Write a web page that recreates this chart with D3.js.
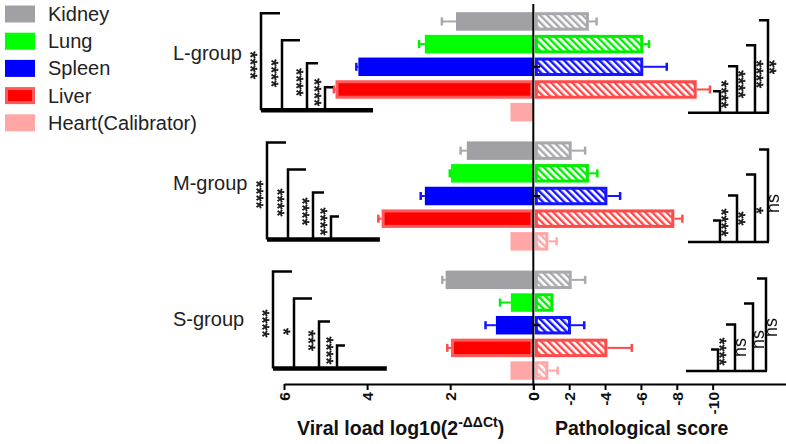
<!DOCTYPE html>
<html><head><meta charset="utf-8">
<script src="https://cdn.jsdelivr.net/npm/d3@7/dist/d3.min.js"></script>
<style>
html,body{margin:0;padding:0;background:#fff;}
svg{display:block;font-family:Arial,"Liberation Sans",sans-serif;}
</style></head>
<body>
<svg id="c" width="786" height="444"></svg>
<script>
// ---------- data ----------
const groups = ["L-group", "M-group", "S-group"];
const organs = ["Kidney", "Lung", "Spleen", "Liver", "Heart(Calibrator)"];
const organColors = ["#a0a0a5", "#00ff00", "#0000ff", "#ff0000", "#ffa6a6"];
const hatchColors = ["#a8a8ad", "#00ee00", "#1414ff", "#ff4a4a", "#ffa6a6"];

// viral load log10(2^-ddCt): mean and one-sided error, per group (organ order)
const viralL = [1.86, 2.61, 4.21, 4.76, 0.55];
const viralM = [1.60, 1.98, 2.61, 3.65, 0.55];
const viralS = [2.11, 0.54, 0.90, 1.98, 0.55];
const viralErrL = [0.34, 0.14, 0.05, 0.04, 0];
const viralErrM = [0.15, 0.03, 0.10, 0.08, 0];
const viralErrS = [0.08, 0.26, 0.25, 0.09, 0];

// pathological score
const pathL = [3.1, 6.13, 6.13, 9.11, 0];
const pathM = [2.14, 3.1, 4.13, 7.86, 0.84];
const pathS = [2.14, 1.12, 2.1, 4.13, 0.84];
const pathErrL = [0.43, 0.32, 1.31, 0.74, 0];
const pathErrM = [0.75, 0.47, 0.71, 0.45, 0.46];
const pathErrS = [0.75, 0, 0.74, 1.36, 0.52];

// significance labels (outer bracket first on the left; inner first on the right)
const sigLeftL = ["****", "****", "****", "****"];
const sigLeftM = ["****", "****", "****", "****"];
const sigLeftS = ["****", "*", "***", "****"];
const sigRightL = ["****", "****", "****", "**"];
const sigRightM = ["****", "**", "*", "ns"];
const sigRightS = ["****", "ns", "ns", "ns"];

const leftTicks = [0, 2, 4, 6];
const rightTicks = [0, 2, 4, 6, 8, 10];

const viral = [viralL, viralM, viralS];
const viralErr = [viralErrL, viralErrM, viralErrS];
const path = [pathL, pathM, pathS];
const pathErr = [pathErrL, pathErrM, pathErrS];
const sigLeft = [sigLeftL, sigLeftM, sigLeftS];
const sigRight = [sigRightL, sigRightM, sigRightS];

// ---------- scales ----------
const svg = d3.select("#c");
const x0 = 533.3;
const xL = d3.scaleLinear().domain([0, 6]).range([x0, 284]);
const xR = d3.scaleLinear().domain([0, 14.2]).range([x0, 788]);
const yG = d3.scaleBand().domain(groups).range([8, 384]).paddingInner(0.09).paddingOuter(0);
const yO = d3.scaleBand().domain(organs).range([0, yG.bandwidth()]).padding(0.185);

// hatch patterns
const defs = svg.append("defs");
hatchColors.forEach((c, i) => {
  const p = defs.append("pattern").attr("id", "h" + i)
    .attr("patternUnits", "userSpaceOnUse").attr("width", 5).attr("height", 5)
    .attr("patternTransform", "rotate(-45)");
  p.append("rect").attr("width", 5).attr("height", 5).attr("fill", "#fff");
  p.append("rect").attr("x", 0).attr("width", 2.4).attr("height", 5).attr("fill", c);
});

// ---------- bars ----------
groups.forEach((g, gi) => {
  const gy = yG(g);
  organs.forEach((o, oi) => {
    const y = gy + yO(o), h = yO.bandwidth(), cy = y + h / 2;
    const v = viral[gi][oi], e = viralErr[gi][oi];
    const isLiver = oi === 3;
    svg.append("rect")
      .attr("x", xL(v) + (isLiver ? 1.5 : 0)).attr("y", y + (isLiver ? 1.5 : 0))
      .attr("width", x0 - xL(v) - (isLiver ? 3 : 0)).attr("height", h - (isLiver ? 3 : 0))
      .attr("fill", organColors[oi])
      .attr("stroke", isLiver ? "#ff5a5a" : "none").attr("stroke-width", isLiver ? 3 : 0);
    if (e > 0) {
      svg.append("line").attr("x1", xL(v)).attr("x2", xL(v + e)).attr("y1", cy).attr("y2", cy)
        .attr("stroke", hatchColors[oi]).attr("stroke-width", 2);
      svg.append("line").attr("x1", xL(v + e)).attr("x2", xL(v + e)).attr("y1", cy - 4).attr("y2", cy + 4)
        .attr("stroke", hatchColors[oi]).attr("stroke-width", 2.5);
    }
    const pv = path[gi][oi], pe = pathErr[gi][oi];
    if (pv > 0) {
      svg.append("rect")
        .attr("x", xR(0) + 3).attr("y", y + 1.5)
        .attr("width", xR(pv) - xR(0) - 4.5).attr("height", h - 3)
        .attr("fill", "url(#h" + oi + ")")
        .attr("stroke", hatchColors[oi]).attr("stroke-width", 3);
      if (pe > 0) {
        svg.append("line").attr("x1", xR(pv)).attr("x2", xR(pv + pe)).attr("y1", cy).attr("y2", cy)
          .attr("stroke", hatchColors[oi]).attr("stroke-width", 2);
        svg.append("line").attr("x1", xR(pv + pe)).attr("x2", xR(pv + pe)).attr("y1", cy - 4).attr("y2", cy + 4)
          .attr("stroke", hatchColors[oi]).attr("stroke-width", 2.5);
      }
    }
    if (oi === 2) {
      svg.append("line").attr("x1", x0).attr("x2", x0 + 7).attr("y1", cy).attr("y2", cy)
        .attr("stroke", "#000").attr("stroke-width", 2);
    }
  });
});

// centre line
svg.append("line").attr("x1", x0).attr("x2", x0).attr("y1", 4).attr("y2", 384)
  .attr("stroke", "#000").attr("stroke-width", 2);

// ---------- axes ----------
function styleAxis(sel) {
  sel.select(".domain").attr("stroke", "#000").attr("stroke-width", 2);
  sel.selectAll(".tick line").attr("stroke", "#000").attr("stroke-width", 2);
  sel.selectAll(".tick text")
    .attr("transform", "rotate(-90)").attr("text-anchor", "end")
    .attr("x", -8).attr("y", 0).attr("dy", "0.36em")
    .attr("font-size", 15.5).attr("font-weight", "bold").attr("fill", "#111")
    .attr("font-family", 'Arial,"Liberation Sans",sans-serif');
}
svg.append("g").attr("transform", "translate(0,384)")
  .call(d3.axisBottom(xL).tickValues(leftTicks).tickSize(6).tickSizeOuter(0).tickFormat(d3.format("d")))
  .call(styleAxis);
svg.append("g").attr("transform", "translate(0,384)")
  .call(d3.axisBottom(xR).tickValues(rightTicks).tickSize(6).tickSizeOuter(0)
    .tickFormat(d => d === 0 ? "0" : "-" + d))
  .call(styleAxis);

// axis titles
const t1 = svg.append("text").attr("x", 297).attr("y", 435)
  .attr("font-size", 19.5).attr("font-weight", "bold").attr("fill", "#111");
t1.append("tspan").text("Viral load log10(2");
t1.append("tspan").attr("font-size", 14).attr("dy", -8).text("-ΔΔCt");
t1.append("tspan").attr("dy", 8).text(")");
svg.append("text").attr("x", 555).attr("y", 435)
  .attr("font-size", 19.5).attr("font-weight", "bold").attr("fill", "#111")
  .text("Pathological score");

// ---------- group labels ----------
const groupLabelDy = [48, 49, 55];
groups.forEach((g, gi) => {
  svg.append("text").attr("x", 173).attr("y", yG(g) + yO(organs[0]) + groupLabelDy[gi])
    .attr("font-size", 20).attr("fill", "#222").text(g);
});

// ---------- legend ----------
organs.forEach((o, i) => {
  const ly = 5.5 + i * 27.2;
  const isLiver = i === 3;
  svg.append("rect").attr("x", 5 + (isLiver ? 1.5 : 0)).attr("y", ly + (isLiver ? 1.5 : 0))
    .attr("width", 30 - (isLiver ? 3 : 0)).attr("height", 17 - (isLiver ? 3 : 0))
    .attr("fill", organColors[i])
    .attr("stroke", isLiver ? "#ff5a5a" : "none").attr("stroke-width", isLiver ? 3 : 0);
  svg.append("text").attr("x", 48).attr("y", ly + 15.5)
    .attr("font-size", 20).attr("fill", "#222").text(o);
});

// ---------- significance brackets ----------
const annot = svg.append("g").attr("opacity", 0.999);
function vtext(x, y, s) {
  const isStar = s.indexOf("*") >= 0;
  annot.append("text")
    .attr("transform", `translate(${x},${y}) rotate(${isStar ? 90 : -90})`)
    .attr("text-anchor", "middle").attr("dy", isStar ? "0.6em" : "0.3em")
    .attr("font-size", 18).attr("fill", "#111")
    .attr("stroke", isStar ? "#111" : "none").attr("stroke-width", isStar ? 0.6 : 0)
    .text(s);
}
const lbX = [261, 282, 307, 325];
const lbEnd = [280, 300, 318, 333];
const lbTop = [1, 28, 51, 75];
const lbLab = [53, 61, 70, 80];
const rbX = [720, 737, 755, 768];
const rbStart = [713, 728, 746, 759];
const rbTop = [79, 54, 33, 8];
const rbLabL = [82, 72, 62, 55];
const rbLabM = [81, 77, 69, 62];
const rbLabS = [81, 77, 69, 57];
const rbLab = [rbLabL, rbLabM, rbLabS];

groups.forEach((g, gi) => {
  const top0 = yG(g) + yO(organs[0]);
  const dx = gi * 6;
  const base = top0 + 98;
  svg.append("line").attr("x1", lbX[0] + dx).attr("x2", 373 + dx * 1.15).attr("y1", base).attr("y2", base)
    .attr("stroke", "#000").attr("stroke-width", 4.5);
  lbX.forEach((bx, k) => {
    svg.append("path")
      .attr("d", `M${bx + dx},${base} V${top0 + lbTop[k]} H${lbEnd[k] + dx}`)
      .attr("fill", "none").attr("stroke", "#000").attr("stroke-width", 2.5);
    vtext(bx + dx - 6, top0 + lbLab[k], sigLeft[gi][k]);
  });
  const rdx = gi === 2 ? -2 : 0;
  const rbase = top0 + 100.5;
  svg.append("line").attr("x1", 688 + rdx).attr("x2", rbX[3] + rdx + 1).attr("y1", rbase).attr("y2", rbase)
    .attr("stroke", "#000").attr("stroke-width", 2.5);
  rbX.forEach((bx, k) => {
    svg.append("path")
      .attr("d", `M${bx + rdx},${rbase} V${top0 + rbTop[k]} H${rbStart[k] + rdx}`)
      .attr("fill", "none").attr("stroke", "#000").attr("stroke-width", 2.5);
    vtext(bx + rdx + 6, top0 + rbLab[gi][k], sigRight[gi][k]);
  });
});
</script>
</body></html>
